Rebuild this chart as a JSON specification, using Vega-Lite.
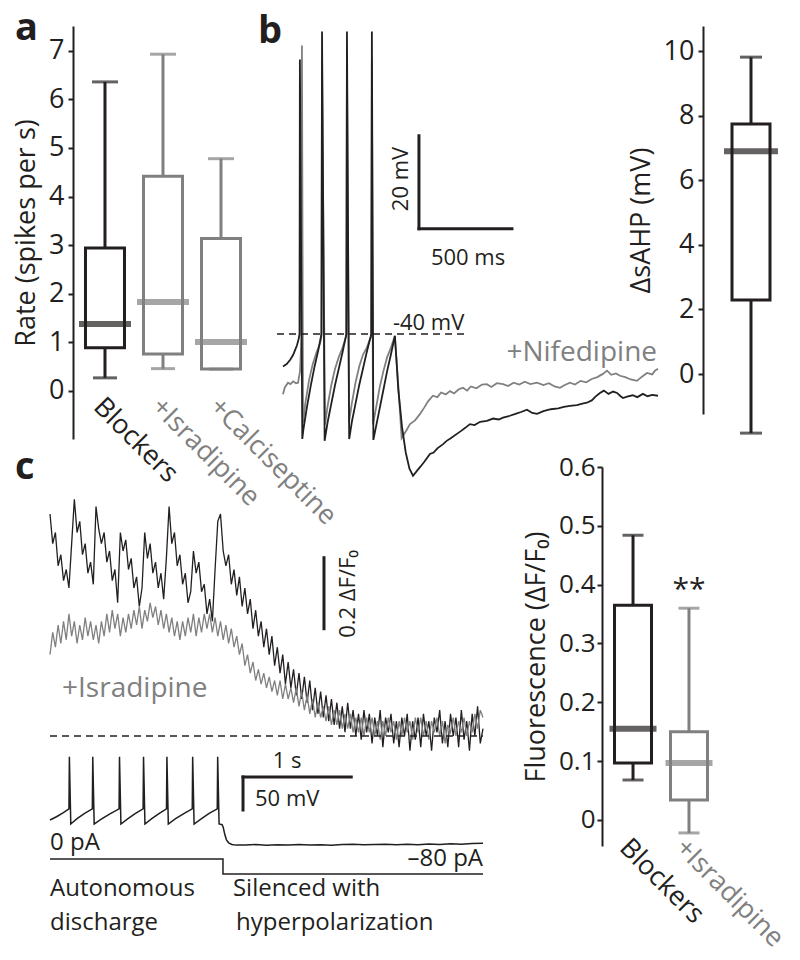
{
"$schema": "https://vega.github.io/schema/vega-lite/v6.json",
"padding": {"left": 12, "top": 10, "right": 0, "bottom": 0},
"background": "white",
"bounds": "flush",
"align": "each",
"columns": 3,
"spacing": {"row": 28, "column": 0},
"config": {
  "font": "Open Sans",
  "view": {"stroke": null},
  "axis": {"domainColor": "#231f20", "domainWidth": 2, "tickColor": "#231f20", "tickWidth": 2, "tickSize": 5, "labelFontSize": 27, "titleFontSize": 27, "titleFontWeight": "normal", "labelColor": "#231f20", "titleColor": "#231f20", "grid": false, "labelFont": "Open Sans", "titleFont": "Open Sans"},
  "text": {"font": "Open Sans"}
},
"datasets": {
  "boxA": [
    {"g": "Blockers", "lo": 0.27, "q1": 0.89, "med": 1.38, "q3": 2.94, "hi": 6.36},
    {"g": "+Isradipine", "lo": 0.46, "q1": 0.76, "med": 1.83, "q3": 4.42, "hi": 6.93},
    {"g": "+Calciseptine", "lo": 0.45, "q1": 0.45, "med": 1.01, "q3": 3.14, "hi": 4.78}
  ],
  "boxB": [
    {"g": "Blockers", "lo": -1.83, "q1": 2.29, "med": 6.9, "q3": 7.74, "hi": 9.81}
  ],
  "boxC": [
    {"g": "Blockers", "lo": 0.068, "q1": 0.097, "med": 0.155, "q3": 0.365, "hi": 0.484},
    {"g": "+Isradipine", "lo": -0.022, "q1": 0.034, "med": 0.097, "q3": 0.15, "hi": 0.36}
  ],
  "bBlack": [
    {"t":0,"v":-47},{"t":20,"v":-46.5},{"t":40,"v":-45.5},{"t":55,"v":-44.5},{"t":65,"v":-43.5},{"t":75,"v":-42.5},{"t":85,"v":-41},{"t":89,"v":-40},{"t":91,"v":19},{"t":104,"v":-62.6},{"t":110,"v":-60.5},{"t":130,"v":-55.5},{"t":150,"v":-51},{"t":170,"v":-47},{"t":190,"v":-43.5},{"t":207,"v":-40},{"t":210,"v":25},{"t":224,"v":-63},{"t":240,"v":-59},{"t":260,"v":-55},{"t":280,"v":-51},{"t":300,"v":-47.5},{"t":320,"v":-44},{"t":341,"v":-40},{"t":344,"v":25},{"t":356,"v":-62.6},{"t":370,"v":-59},{"t":390,"v":-55},{"t":410,"v":-51},{"t":430,"v":-47.5},{"t":450,"v":-44},{"t":475,"v":-40},{"t":478,"v":25},{"t":486,"v":-62.8},{"t":500,"v":-60},{"t":520,"v":-56},{"t":540,"v":-52},{"t":560,"v":-48},{"t":580,"v":-44.5},{"t":602,"v":-40.4},{"t":620,"v":-52},{"t":640,"v":-60},{"t":660,"v":-65.5},{"t":680,"v":-69},{"t":699,"v":-70.5},{"t":719,"v":-69.5},{"t":740,"v":-68.5},{"t":760,"v":-67.5},{"t":790,"v":-65.8},{"t":810,"v":-65.5},{"t":830,"v":-64.6},{"t":861,"v":-63.7},{"t":880,"v":-63},{"t":900,"v":-62.5},{"t":935,"v":-61.5},{"t":960,"v":-60.8},{"t":980,"v":-60.2},{"t":1005,"v":-59.4},{"t":1030,"v":-59.6},{"t":1060,"v":-58.9},{"t":1096,"v":-58.7},{"t":1130,"v":-58.2},{"t":1160,"v":-58.4},{"t":1183,"v":-58},{"t":1220,"v":-57.6},{"t":1250,"v":-57.2},{"t":1280,"v":-56.8},{"t":1312,"v":-56.3},{"t":1340,"v":-57},{"t":1366,"v":-57.2},{"t":1400,"v":-56.6},{"t":1440,"v":-56.2},{"t":1480,"v":-56},{"t":1510,"v":-55.7},{"t":1543,"v":-55.5},{"t":1580,"v":-55.3},{"t":1610,"v":-55},{"t":1634,"v":-54.8},{"t":1660,"v":-54.3},{"t":1680,"v":-53.5},{"t":1704,"v":-52.7},{"t":1725,"v":-52.2},{"t":1750,"v":-52.9},{"t":1775,"v":-52.4},{"t":1796,"v":-52.7},{"t":1815,"v":-53.4},{"t":1828,"v":-53.8},{"t":1850,"v":-53.5},{"t":1880,"v":-53.2},{"t":1905,"v":-53.6},{"t":1935,"v":-52.9},{"t":1960,"v":-53.4},{"t":1985,"v":-53.1},{"t":2016,"v":-53.3}
  ],
  "bGray": [
    {"t":0,"v":-53},{"t":10,"v":-51.5},{"t":27,"v":-50.5},{"t":40,"v":-50.8},{"t":55,"v":-50.2},{"t":70,"v":-50.6},{"t":81,"v":-50.5},{"t":92,"v":-48},{"t":99,"v":-41},{"t":102,"v":22},{"t":108,"v":-59.1},{"t":120,"v":-55},{"t":140,"v":-50},{"t":160,"v":-46.5},{"t":180,"v":-44},{"t":200,"v":-42},{"t":207,"v":-40.5},{"t":210,"v":19},{"t":226,"v":-59.5},{"t":240,"v":-55.5},{"t":260,"v":-51},{"t":280,"v":-47.5},{"t":300,"v":-45},{"t":320,"v":-43},{"t":340,"v":-40.5},{"t":344,"v":19},{"t":355,"v":-59},{"t":370,"v":-55},{"t":390,"v":-50.5},{"t":410,"v":-47},{"t":430,"v":-44.5},{"t":450,"v":-43},{"t":474,"v":-40.5},{"t":478,"v":19},{"t":484,"v":-59.5},{"t":500,"v":-56},{"t":520,"v":-51.5},{"t":540,"v":-48},{"t":560,"v":-45},{"t":580,"v":-43},{"t":601,"v":-40.5},{"t":620,"v":-51},{"t":638,"v":-62.4},{"t":660,"v":-61},{"t":683,"v":-59.4},{"t":710,"v":-58.6},{"t":737,"v":-57.2},{"t":760,"v":-55.8},{"t":780,"v":-54.5},{"t":806,"v":-53.3},{"t":830,"v":-53.6},{"t":850,"v":-52.6},{"t":875,"v":-53},{"t":898,"v":-52.3},{"t":920,"v":-52.8},{"t":945,"v":-51.9},{"t":968,"v":-51.6},{"t":990,"v":-52.2},{"t":1010,"v":-51.3},{"t":1040,"v":-51.7},{"t":1070,"v":-50.9},{"t":1096,"v":-50.8},{"t":1120,"v":-51.4},{"t":1150,"v":-50.6},{"t":1183,"v":-50.8},{"t":1210,"v":-51.2},{"t":1240,"v":-50.5},{"t":1270,"v":-50.9},{"t":1300,"v":-50.3},{"t":1330,"v":-50.8},{"t":1366,"v":-50.5},{"t":1400,"v":-51},{"t":1430,"v":-50.6},{"t":1460,"v":-51.3},{"t":1489,"v":-51.6},{"t":1515,"v":-51},{"t":1543,"v":-50.5},{"t":1570,"v":-50.9},{"t":1600,"v":-50.1},{"t":1630,"v":-50.4},{"t":1660,"v":-49.7},{"t":1690,"v":-49.3},{"t":1720,"v":-48.6},{"t":1742,"v":-47.9},{"t":1765,"v":-48.8},{"t":1790,"v":-48.5},{"t":1812,"v":-49},{"t":1840,"v":-49.3},{"t":1870,"v":-49.8},{"t":1903,"v":-50.1},{"t":1930,"v":-49.2},{"t":1957,"v":-48.4},{"t":1985,"v":-48.7},{"t":2000,"v":-47.9},{"t":2016,"v":-47.5}
  ],
  "fBlack": [
    {"t":0,"v":0.6},{"t":0.025,"v":0.52},{"t":0.05,"v":0.55},{"t":0.075,"v":0.46},{"t":0.1,"v":0.49},{"t":0.125,"v":0.42},{"t":0.15,"v":0.45},{"t":0.175,"v":0.4},{"t":0.2,"v":0.52},{"t":0.225,"v":0.64},{"t":0.25,"v":0.55},{"t":0.275,"v":0.58},{"t":0.3,"v":0.49},{"t":0.325,"v":0.52},{"t":0.35,"v":0.44},{"t":0.375,"v":0.47},{"t":0.4,"v":0.41},{"t":0.425,"v":0.62},{"t":0.45,"v":0.56},{"t":0.475,"v":0.52},{"t":0.5,"v":0.55},{"t":0.525,"v":0.47},{"t":0.55,"v":0.5},{"t":0.575,"v":0.42},{"t":0.6,"v":0.45},{"t":0.625,"v":0.36},{"t":0.65,"v":0.55},{"t":0.675,"v":0.5},{"t":0.7,"v":0.53},{"t":0.725,"v":0.45},{"t":0.75,"v":0.48},{"t":0.775,"v":0.4},{"t":0.8,"v":0.43},{"t":0.825,"v":0.35},{"t":0.85,"v":0.4},{"t":0.875,"v":0.55},{"t":0.9,"v":0.48},{"t":0.925,"v":0.52},{"t":0.95,"v":0.44},{"t":0.975,"v":0.47},{"t":1,"v":0.4},{"t":1.025,"v":0.44},{"t":1.05,"v":0.37},{"t":1.075,"v":0.48},{"t":1.1,"v":0.62},{"t":1.125,"v":0.52},{"t":1.15,"v":0.55},{"t":1.175,"v":0.46},{"t":1.2,"v":0.49},{"t":1.225,"v":0.41},{"t":1.25,"v":0.44},{"t":1.275,"v":0.36},{"t":1.3,"v":0.39},{"t":1.325,"v":0.5},{"t":1.35,"v":0.44},{"t":1.375,"v":0.47},{"t":1.4,"v":0.39},{"t":1.425,"v":0.41},{"t":1.45,"v":0.33},{"t":1.475,"v":0.37},{"t":1.5,"v":0.31},{"t":1.525,"v":0.45},{"t":1.55,"v":0.58},{"t":1.575,"v":0.6},{"t":1.6,"v":0.5},{"t":1.625,"v":0.46},{"t":1.65,"v":0.49},{"t":1.675,"v":0.41},{"t":1.7,"v":0.45},{"t":1.725,"v":0.38},{"t":1.75,"v":0.43},{"t":1.775,"v":0.35},{"t":1.8,"v":0.4},{"t":1.825,"v":0.33},{"t":1.85,"v":0.37},{"t":1.875,"v":0.29},{"t":1.9,"v":0.34},{"t":1.925,"v":0.27},{"t":1.95,"v":0.31},{"t":1.975,"v":0.24},{"t":2,"v":0.29},{"t":2.025,"v":0.22},{"t":2.05,"v":0.27},{"t":2.075,"v":0.19},{"t":2.1,"v":0.24},{"t":2.125,"v":0.17},{"t":2.15,"v":0.22},{"t":2.175,"v":0.14},{"t":2.2,"v":0.2},{"t":2.225,"v":0.13},{"t":2.25,"v":0.18},{"t":2.275,"v":0.11},{"t":2.3,"v":0.17},{"t":2.325,"v":0.1},{"t":2.35,"v":0.16},{"t":2.375,"v":0.09},{"t":2.4,"v":0.15},{"t":2.425,"v":0.07},{"t":2.45,"v":0.13},{"t":2.475,"v":0.06},{"t":2.5,"v":0.12},{"t":2.525,"v":0.05},{"t":2.55,"v":0.11},{"t":2.575,"v":0.04},{"t":2.6,"v":0.1},{"t":2.625,"v":0.03},{"t":2.65,"v":0.09},{"t":2.675,"v":0.02},{"t":2.7,"v":0.08},{"t":2.725,"v":0.01},{"t":2.75,"v":0.09},{"t":2.775,"v":0.02},{"t":2.8,"v":0.07},{"t":2.825,"v":0},{"t":2.85,"v":0.06},{"t":2.875,"v":-0.01},{"t":2.9,"v":0.07},{"t":2.925,"v":0.01},{"t":2.95,"v":0.06},{"t":2.975,"v":-0.02},{"t":3,"v":0.05},{"t":3.025,"v":0},{"t":3.05,"v":0.07},{"t":3.075,"v":-0.03},{"t":3.1,"v":0.05},{"t":3.125,"v":0.01},{"t":3.15,"v":0.06},{"t":3.175,"v":-0.02},{"t":3.2,"v":0.04},{"t":3.225,"v":-0.03},{"t":3.25,"v":0.05},{"t":3.275,"v":0},{"t":3.3,"v":0.06},{"t":3.325,"v":-0.04},{"t":3.35,"v":0.04},{"t":3.375,"v":-0.01},{"t":3.4,"v":0.05},{"t":3.425,"v":-0.03},{"t":3.45,"v":0.06},{"t":3.475,"v":0},{"t":3.5,"v":0.04},{"t":3.525,"v":-0.04},{"t":3.55,"v":0.05},{"t":3.575,"v":0.01},{"t":3.6,"v":0.07},{"t":3.625,"v":-0.02},{"t":3.65,"v":0.04},{"t":3.675,"v":-0.03},{"t":3.7,"v":0.06},{"t":3.725,"v":0},{"t":3.75,"v":0.05},{"t":3.775,"v":-0.03},{"t":3.8,"v":0.07},{"t":3.825,"v":-0.01},{"t":3.85,"v":0.04},{"t":3.875,"v":-0.04},{"t":3.9,"v":0.06},{"t":3.925,"v":0},{"t":3.95,"v":0.08},{"t":3.975,"v":-0.02},{"t":4,"v":0.02}
  ],
  "fGray": [
    {"t":0,"v":0.22},{"t":0.025,"v":0.28},{"t":0.05,"v":0.24},{"t":0.075,"v":0.3},{"t":0.1,"v":0.25},{"t":0.125,"v":0.31},{"t":0.15,"v":0.26},{"t":0.175,"v":0.33},{"t":0.2,"v":0.27},{"t":0.225,"v":0.31},{"t":0.25,"v":0.25},{"t":0.275,"v":0.3},{"t":0.3,"v":0.26},{"t":0.325,"v":0.32},{"t":0.35,"v":0.27},{"t":0.375,"v":0.31},{"t":0.4,"v":0.26},{"t":0.425,"v":0.3},{"t":0.45,"v":0.25},{"t":0.475,"v":0.31},{"t":0.5,"v":0.27},{"t":0.525,"v":0.33},{"t":0.55,"v":0.28},{"t":0.575,"v":0.34},{"t":0.6,"v":0.29},{"t":0.625,"v":0.33},{"t":0.65,"v":0.27},{"t":0.675,"v":0.32},{"t":0.7,"v":0.28},{"t":0.725,"v":0.33},{"t":0.75,"v":0.29},{"t":0.775,"v":0.34},{"t":0.8,"v":0.3},{"t":0.825,"v":0.35},{"t":0.85,"v":0.29},{"t":0.875,"v":0.34},{"t":0.9,"v":0.31},{"t":0.925,"v":0.36},{"t":0.95,"v":0.32},{"t":0.975,"v":0.35},{"t":1,"v":0.3},{"t":1.025,"v":0.34},{"t":1.05,"v":0.29},{"t":1.075,"v":0.33},{"t":1.1,"v":0.28},{"t":1.125,"v":0.32},{"t":1.15,"v":0.27},{"t":1.175,"v":0.31},{"t":1.2,"v":0.26},{"t":1.225,"v":0.31},{"t":1.25,"v":0.27},{"t":1.275,"v":0.32},{"t":1.3,"v":0.28},{"t":1.325,"v":0.33},{"t":1.35,"v":0.27},{"t":1.375,"v":0.32},{"t":1.4,"v":0.28},{"t":1.425,"v":0.33},{"t":1.45,"v":0.29},{"t":1.475,"v":0.33},{"t":1.5,"v":0.28},{"t":1.525,"v":0.32},{"t":1.55,"v":0.27},{"t":1.575,"v":0.31},{"t":1.6,"v":0.26},{"t":1.625,"v":0.3},{"t":1.65,"v":0.25},{"t":1.675,"v":0.29},{"t":1.7,"v":0.24},{"t":1.725,"v":0.27},{"t":1.75,"v":0.22},{"t":1.775,"v":0.25},{"t":1.8,"v":0.19},{"t":1.825,"v":0.22},{"t":1.85,"v":0.17},{"t":1.875,"v":0.2},{"t":1.9,"v":0.15},{"t":1.925,"v":0.18},{"t":1.95,"v":0.14},{"t":1.975,"v":0.17},{"t":2,"v":0.13},{"t":2.025,"v":0.16},{"t":2.05,"v":0.12},{"t":2.075,"v":0.15},{"t":2.1,"v":0.11},{"t":2.125,"v":0.15},{"t":2.15,"v":0.1},{"t":2.175,"v":0.14},{"t":2.2,"v":0.1},{"t":2.225,"v":0.13},{"t":2.25,"v":0.09},{"t":2.275,"v":0.13},{"t":2.3,"v":0.08},{"t":2.325,"v":0.12},{"t":2.35,"v":0.07},{"t":2.375,"v":0.11},{"t":2.4,"v":0.06},{"t":2.425,"v":0.1},{"t":2.45,"v":0.05},{"t":2.475,"v":0.09},{"t":2.5,"v":0.05},{"t":2.525,"v":0.08},{"t":2.55,"v":0.04},{"t":2.575,"v":0.08},{"t":2.6,"v":0.03},{"t":2.625,"v":0.07},{"t":2.65,"v":0.03},{"t":2.675,"v":0.07},{"t":2.7,"v":0.02},{"t":2.725,"v":0.06},{"t":2.75,"v":0.02},{"t":2.775,"v":0.06},{"t":2.8,"v":0.01},{"t":2.825,"v":0.05},{"t":2.85,"v":0.01},{"t":2.875,"v":0.05},{"t":2.9,"v":0},{"t":2.925,"v":0.05},{"t":2.95,"v":0.01},{"t":2.975,"v":0.05},{"t":3,"v":0},{"t":3.025,"v":0.04},{"t":3.05,"v":-0.01},{"t":3.075,"v":0.04},{"t":3.1,"v":0},{"t":3.125,"v":0.05},{"t":3.15,"v":0.01},{"t":3.175,"v":0.04},{"t":3.2,"v":-0.01},{"t":3.225,"v":0.04},{"t":3.25,"v":0},{"t":3.275,"v":0.05},{"t":3.3,"v":0.01},{"t":3.325,"v":0.04},{"t":3.35,"v":-0.01},{"t":3.375,"v":0.05},{"t":3.4,"v":0.01},{"t":3.425,"v":0.05},{"t":3.45,"v":0},{"t":3.475,"v":0.04},{"t":3.5,"v":-0.01},{"t":3.525,"v":0.04},{"t":3.55,"v":0.01},{"t":3.575,"v":0.05},{"t":3.6,"v":0},{"t":3.625,"v":0.04},{"t":3.65,"v":-0.02},{"t":3.675,"v":0.03},{"t":3.7,"v":0.01},{"t":3.725,"v":0.05},{"t":3.75,"v":0},{"t":3.775,"v":0.04},{"t":3.8,"v":0.01},{"t":3.825,"v":0.05},{"t":3.85,"v":0},{"t":3.875,"v":0.04},{"t":3.9,"v":0.01},{"t":3.925,"v":0.06},{"t":3.95,"v":0.02},{"t":3.975,"v":0.07},{"t":4,"v":0.05}
  ],
  "vC": [
    {"t":0,"v":-54},{"t":0.06,"v":-49},{"t":0.12,"v":-43},{"t":0.175,"v":-37},{"t":0.179,"v":42},{"t":0.192,"v":-60},{"t":0.25,"v":-52},{"t":0.32,"v":-44},{"t":0.391,"v":-37},{"t":0.395,"v":42},{"t":0.408,"v":-60},{"t":0.47,"v":-53},{"t":0.55,"v":-45},{"t":0.638,"v":-37},{"t":0.642,"v":42},{"t":0.655,"v":-60},{"t":0.72,"v":-52},{"t":0.79,"v":-44},{"t":0.86,"v":-37},{"t":0.864,"v":42},{"t":0.877,"v":-60},{"t":0.94,"v":-52},{"t":1.01,"v":-44},{"t":1.076,"v":-37},{"t":1.08,"v":42},{"t":1.093,"v":-60},{"t":1.16,"v":-52},{"t":1.24,"v":-44},{"t":1.314,"v":-37},{"t":1.318,"v":42},{"t":1.331,"v":-60},{"t":1.4,"v":-52},{"t":1.47,"v":-44},{"t":1.545,"v":-37},{"t":1.549,"v":42},{"t":1.562,"v":-60},{"t":1.59,"v":-61},{"t":1.6,"v":-65},{"t":1.615,"v":-76},{"t":1.63,"v":-84},{"t":1.65,"v":-88.5},{"t":1.68,"v":-91},{"t":1.72,"v":-92},{"t":1.8,"v":-92},{"t":1.9,"v":-91.2},{"t":2,"v":-92.3},{"t":2.1,"v":-91.5},{"t":2.2,"v":-92},{"t":2.3,"v":-91},{"t":2.4,"v":-91.8},{"t":2.5,"v":-91.4},{"t":2.6,"v":-92.2},{"t":2.7,"v":-91},{"t":2.8,"v":-90.8},{"t":2.9,"v":-91.6},{"t":3,"v":-91.2},{"t":3.1,"v":-90.5},{"t":3.2,"v":-91.3},{"t":3.3,"v":-90.7},{"t":3.4,"v":-91.5},{"t":3.5,"v":-90.2},{"t":3.6,"v":-90.9},{"t":3.7,"v":-89.8},{"t":3.8,"v":-90.6},{"t":3.9,"v":-89.5},{"t":4,"v":-89.2}
  ],
  "iC": [
    {"i":0,"t":0,"v":0},{"i":1,"t":1.598,"v":0},{"i":2,"t":1.598,"v":-80},{"i":3,"t":4,"v":-80}
  ]
},
"concat": [
  {
    "width": 200, "height": 413,
    "title": {"text": "a", "anchor": "start", "frame": "group", "fontSize": 38, "fontWeight": "bold", "color": "#231f20", "offset": 0, "dx": -35, "dy": 52, "baseline": "alphabetic"},
    "data": {"name": "boxA"},
    "encoding": {
      "x": {"field": "g", "type": "nominal", "sort": ["Blockers", "+Isradipine", "+Calciseptine"], "scale": {"paddingInner": 0, "paddingOuter": 0.224, "align": 1},
            "axis": {"title": null, "domain": false, "ticks": false, "tickSize": 0, "labelAngle": 45, "labelAlign": "left", "labelBaseline": "top", "labelOffset": 2, "labelPadding": 2, "offset": -48, "labelOverlap": false, "labelLimit": 400, "labelFontSize": 27,
                     "labelColor": {"condition": {"test": "datum.value == 'Blockers'", "value": "#231f20"}, "value": "#808080"}}}
    },
    "layer": [
      {"mark": {"type": "rule", "strokeWidth": 3},
       "encoding": {
         "y": {"field": "lo", "type": "quantitative", "scale": {"domain": [-0.988, 7.51], "nice": false, "zero": false},
               "axis": {"title": "Rate (spikes per s)", "values": [0,1,2,3,4,5,6,7], "offset": -23, "labelPadding": 4, "titlePadding": 8}},
         "y2": {"field": "hi"},
         "stroke": {"field": "g", "type": "nominal", "scale": {"domain": ["Blockers", "+Isradipine", "+Calciseptine"], "range": ["#231f20", "#808080", "#808080"]}, "legend": null}}},
      {"mark": {"type": "bar", "size": 39, "fill": "white", "strokeWidth": 3},
       "encoding": {
         "y": {"field": "q1", "type": "quantitative", "scale": {"domain": [-0.988, 7.51], "nice": false, "zero": false}},
         "y2": {"field": "q3"},
         "stroke": {"field": "g", "type": "nominal", "scale": {"domain": ["Blockers", "+Isradipine", "+Calciseptine"], "range": ["#231f20", "#808080", "#808080"]}, "legend": null}}},
      {"mark": {"type": "tick", "size": 52, "thickness": 6},
       "encoding": {
         "y": {"field": "med", "type": "quantitative", "scale": {"domain": [-0.988, 7.51], "nice": false, "zero": false}},
         "color": {"field": "g", "type": "nominal", "scale": {"domain": ["Blockers", "+Isradipine", "+Calciseptine"], "range": ["#231f20", "#808080", "#808080"]}, "legend": null}}},
      {"mark": {"type": "tick", "size": 26, "thickness": 3},
       "encoding": {
         "y": {"field": "hi", "type": "quantitative", "scale": {"domain": [-0.988, 7.51], "nice": false, "zero": false}},
         "color": {"field": "g", "type": "nominal", "scale": {"domain": ["Blockers", "+Isradipine", "+Calciseptine"], "range": ["#231f20", "#808080", "#808080"]}, "legend": null}}},
      {"mark": {"type": "tick", "size": 24, "thickness": 3},
       "encoding": {
         "y": {"field": "lo", "type": "quantitative", "scale": {"domain": [-0.988, 7.51], "nice": false, "zero": false}},
         "color": {"field": "g", "type": "nominal", "scale": {"domain": ["Blockers", "+Isradipine", "+Calciseptine"], "range": ["#231f20", "#808080", "#808080"]}, "legend": null}}}
    ]
  },
  {
    "width": 58, "height": 413,
    "encoding": {
      "x": {"field": "t", "type": "quantitative", "scale": {"domain": [1715.1, 2026.9], "nice": false, "zero": false}, "axis": null},
      "y": {"field": "v", "type": "quantitative", "scale": {"domain": [-62.6, 26.2], "nice": false, "zero": false}, "axis": null}
    },
    "layer": [
      {"data": {"name": "bGray"}, "mark": {"type": "line", "color": "#808080", "strokeWidth": 1.8}},
      {"data": {"name": "bBlack"}, "mark": {"type": "line", "color": "#231f20", "strokeWidth": 1.8}},
      {"data": {"values": [{"t": -32, "t2": 978, "v": -40}]}, "mark": {"type": "rule", "strokeDash": [7, 5], "strokeWidth": 1.5, "color": "#231f20"}, "encoding": {"x2": {"field": "t2"}}},
      {"data": {"values": [{"t": 731, "t2": 731, "v": -17.4, "v2": 2.6}, {"t": 731, "t2": 1231, "v": -17.4, "v2": -17.4}]}, "mark": {"type": "rule", "strokeWidth": 3, "strokeCap": "square", "color": "#231f20"}, "encoding": {"x2": {"field": "t2"}, "y2": {"field": "v2"}}},
      {"data": {"values": [{"t": 634, "v": -6.7, "label": "20 mV"}]}, "mark": {"type": "text", "angle": 270, "fontSize": 22, "align": "center", "baseline": "middle", "color": "#231f20"}, "encoding": {"text": {"field": "label"}}},
      {"data": {"values": [{"t": 995, "v": -21.5, "label": "500 ms"}]}, "mark": {"type": "text", "fontSize": 22, "align": "center", "baseline": "top", "color": "#231f20"}, "encoding": {"text": {"field": "label"}}},
      {"data": {"values": [{"t": 591, "v": -37.6, "label": "-40 mV"}]}, "mark": {"type": "text", "fontSize": 22, "align": "left", "baseline": "middle", "color": "#231f20"}, "encoding": {"text": {"field": "label"}}},
      {"data": {"values": [{"t": 2011, "v": -44.1, "label": "+Nifedipine"}]}, "mark": {"type": "text", "fontSize": 28, "align": "right", "baseline": "middle", "color": "#808080"}, "encoding": {"text": {"field": "label"}}},
      {"data": {"values": [{"t": -134, "v": 22.5, "label": "b"}]}, "mark": {"type": "text", "fontSize": 38, "fontWeight": "bold", "align": "left", "baseline": "alphabetic", "color": "#231f20"}, "encoding": {"text": {"field": "label"}}}
    ]
  },
  {
    "width": 62, "height": 388,
    "data": {"name": "boxB"},
    "encoding": {
      "x": {"field": "g", "type": "nominal", "axis": null}
    },
    "layer": [
      {"mark": {"type": "rule", "strokeWidth": 3, "color": "#231f20"},
       "encoding": {
         "y": {"field": "lo", "type": "quantitative", "scale": {"domain": [-1.238, 10.774], "nice": false, "zero": false},
               "axis": {"title": "ΔsAHP (mV)", "values": [0,2,4,6,8,10], "offset": 17, "labelPadding": 4, "titlePadding": 8}},
         "y2": {"field": "hi"}}},
      {"mark": {"type": "bar", "size": 38, "fill": "white", "stroke": "#231f20", "strokeWidth": 3},
       "encoding": {
         "y": {"field": "q1", "type": "quantitative", "scale": {"domain": [-1.238, 10.774], "nice": false, "zero": false}},
         "y2": {"field": "q3"}}},
      {"mark": {"type": "tick", "size": 54, "thickness": 6, "color": "#231f20"},
       "encoding": {"y": {"field": "med", "type": "quantitative", "scale": {"domain": [-1.238, 10.774], "nice": false, "zero": false}}}},
      {"mark": {"type": "tick", "size": 22, "thickness": 3, "color": "#231f20"},
       "encoding": {"y": {"field": "hi", "type": "quantitative", "scale": {"domain": [-1.238, 10.774], "nice": false, "zero": false}}}},
      {"mark": {"type": "tick", "size": 22, "thickness": 3, "color": "#231f20"},
       "encoding": {"y": {"field": "lo", "type": "quantitative", "scale": {"domain": [-1.238, 10.774], "nice": false, "zero": false}}}}
    ]
  },
  {
    "width": 552, "height": 440,
    "resolve": {"scale": {"y": "independent"}},
    "layer": [
      {
        "encoding": {
          "x": {"field": "t", "type": "quantitative", "scale": {"domain": [0, 5.0993], "nice": false, "zero": false}, "axis": null},
          "y": {"field": "v", "type": "quantitative", "scale": {"domain": [-0.46216, 0.72703], "nice": false, "zero": false}, "axis": null}
        },
        "layer": [
          {"data": {"name": "fBlack"}, "mark": {"type": "line", "color": "#231f20", "strokeWidth": 1.3}},
          {"data": {"name": "fGray"}, "mark": {"type": "line", "color": "#808080", "strokeWidth": 1.3}},
          {"data": {"values": [{"t": 0, "t2": 4, "v": 0}]}, "mark": {"type": "rule", "strokeDash": [7, 5], "strokeWidth": 1.5, "color": "#231f20"}, "encoding": {"x2": {"field": "t2"}}},
          {"data": {"values": [{"t": 2.531, "v": 0.286, "v2": 0.486}]}, "mark": {"type": "rule", "strokeWidth": 3, "color": "#231f20"}, "encoding": {"y2": {"field": "v2"}}},
          {"data": {"values": [{"t": 2.753, "v": 0.384, "label": "0.2 ΔF/F₀"}]}, "mark": {"type": "text", "angle": 270, "fontSize": 22, "align": "center", "baseline": "middle", "color": "#231f20"}, "encoding": {"text": {"field": "label"}}},
          {"data": {"values": [{"t": 0.111, "v": 0.127, "label": "+Isradipine"}]}, "mark": {"type": "text", "fontSize": 28, "align": "left", "baseline": "middle", "color": "#808080"}, "encoding": {"text": {"field": "label"}}},
          {"data": {"values": [{"t": -0.323, "v": 0.695, "label": "c"}]}, "mark": {"type": "text", "fontSize": 38, "fontWeight": "bold", "align": "left", "baseline": "alphabetic", "color": "#231f20"}, "encoding": {"text": {"field": "label"}}}
        ]
      },
      {
        "encoding": {
          "x": {"field": "t", "type": "quantitative", "scale": {"domain": [0, 5.0993], "nice": false, "zero": false}, "axis": null},
          "y": {"field": "v", "type": "quantitative", "scale": {"domain": [-185.76, 480.91], "nice": false, "zero": false}, "axis": null}
        },
        "layer": [
          {"data": {"name": "vC"}, "mark": {"type": "line", "color": "#231f20", "strokeWidth": 1.5}},
          {"data": {"values": [{"t": 1.783, "t2": 1.783, "v": -38.8, "v2": 11.2}, {"t": 1.783, "t2": 2.783, "v": 11.2, "v2": 11.2}]}, "mark": {"type": "rule", "strokeWidth": 3, "strokeCap": "square", "color": "#231f20"}, "encoding": {"x2": {"field": "t2"}, "y2": {"field": "v2"}}},
          {"data": {"values": [{"t": 2.19, "v": 35.5, "label": "1 s"}]}, "mark": {"type": "text", "fontSize": 22, "align": "center", "baseline": "middle", "color": "#231f20"}, "encoding": {"text": {"field": "label"}}},
          {"data": {"values": [{"t": 1.894, "v": -22.1, "label": "50 mV"}]}, "mark": {"type": "text", "fontSize": 22, "align": "left", "baseline": "middle", "color": "#231f20"}, "encoding": {"text": {"field": "label"}}}
        ]
      },
      {
        "encoding": {
          "x": {"field": "t", "type": "quantitative", "scale": {"domain": [0, 5.0993], "nice": false, "zero": false}, "axis": null},
          "y": {"field": "v", "type": "quantitative", "scale": {"domain": [-256, 2090.67], "nice": false, "zero": false}, "axis": null}
        },
        "layer": [
          {"data": {"name": "iC"}, "mark": {"type": "line", "color": "#231f20", "strokeWidth": 1.5}, "encoding": {"order": {"field": "i", "type": "quantitative"}}},
          {"data": {"values": [{"t": 0, "v": 85.3, "label": "0 pA"}, {"t": 0, "v": -160, "label": "Autonomous"}, {"t": 0, "v": -341.3, "label": "discharge"}, {"t": 1.69, "v": -160, "label": "Silenced with"}, {"t": 1.718, "v": -341.3, "label": "hyperpolarization"}]}, "mark": {"type": "text", "fontSize": 24, "align": "left", "baseline": "middle", "color": "#231f20"}, "encoding": {"text": {"field": "label"}}},
          {"data": {"values": [{"t": 4, "v": 0, "label": "–80 pA"}]}, "mark": {"type": "text", "fontSize": 24, "align": "right", "baseline": "middle", "color": "#231f20"}, "encoding": {"text": {"field": "label"}}}
        ]
      }
    ]
  },
  {
    "width": 118, "height": 379,
    "data": {"name": "boxC"},
    "encoding": {
      "x": {"field": "g", "type": "nominal", "sort": ["Blockers", "+Isradipine"], "scale": {"paddingInner": 0, "paddingOuter": 0.054},
            "axis": {"title": null, "domain": false, "ticks": false, "tickSize": 0, "labelAngle": 45, "labelAlign": "left", "labelBaseline": "top", "labelOffset": 0, "labelPadding": 2, "offset": -14, "labelOverlap": false, "labelLimit": 400, "labelFontSize": 27,
                     "labelColor": {"condition": {"test": "datum.value == 'Blockers'", "value": "#231f20"}, "value": "#808080"}}}
    },
    "layer": [
      {"mark": {"type": "rule", "strokeWidth": 3},
       "encoding": {
         "y": {"field": "lo", "type": "quantitative", "scale": {"domain": [-0.0442, 0.6], "nice": false, "zero": false},
               "axis": {"title": "Fluorescence (ΔF/F₀)", "values": [0, 0.1, 0.2, 0.3, 0.4, 0.5, 0.6], "format": "~g", "labelFontSize": 26, "labelPadding": 2, "titlePadding": 8}},
         "y2": {"field": "hi"},
         "stroke": {"field": "g", "type": "nominal", "scale": {"domain": ["Blockers", "+Isradipine"], "range": ["#231f20", "#808080"]}, "legend": null}}},
      {"mark": {"type": "bar", "size": 37, "fill": "white", "strokeWidth": 3},
       "encoding": {
         "y": {"field": "q1", "type": "quantitative", "scale": {"domain": [-0.0442, 0.6], "nice": false, "zero": false}},
         "y2": {"field": "q3"},
         "stroke": {"field": "g", "type": "nominal", "scale": {"domain": ["Blockers", "+Isradipine"], "range": ["#231f20", "#808080"]}, "legend": null}}},
      {"mark": {"type": "tick", "size": 47, "thickness": 6},
       "encoding": {
         "y": {"field": "med", "type": "quantitative", "scale": {"domain": [-0.0442, 0.6], "nice": false, "zero": false}},
         "color": {"field": "g", "type": "nominal", "scale": {"domain": ["Blockers", "+Isradipine"], "range": ["#231f20", "#808080"]}, "legend": null}}},
      {"mark": {"type": "tick", "size": 21, "thickness": 3},
       "encoding": {
         "y": {"field": "hi", "type": "quantitative", "scale": {"domain": [-0.0442, 0.6], "nice": false, "zero": false}},
         "color": {"field": "g", "type": "nominal", "scale": {"domain": ["Blockers", "+Isradipine"], "range": ["#231f20", "#808080"]}, "legend": null}}},
      {"mark": {"type": "tick", "size": 21, "thickness": 3},
       "encoding": {
         "y": {"field": "lo", "type": "quantitative", "scale": {"domain": [-0.0442, 0.6], "nice": false, "zero": false}},
         "color": {"field": "g", "type": "nominal", "scale": {"domain": ["Blockers", "+Isradipine"], "range": ["#231f20", "#808080"]}, "legend": null}}},
      {"data": {"values": [{"g": "+Isradipine", "lo": 0.375, "label": "**"}]},
       "mark": {"type": "text", "fontSize": 30, "align": "center", "baseline": "alphabetic", "color": "#231f20"},
       "encoding": {
         "y": {"field": "lo", "type": "quantitative", "scale": {"domain": [-0.0442, 0.6], "nice": false, "zero": false}},
         "text": {"field": "label"}}}
    ]
  }
]
}
